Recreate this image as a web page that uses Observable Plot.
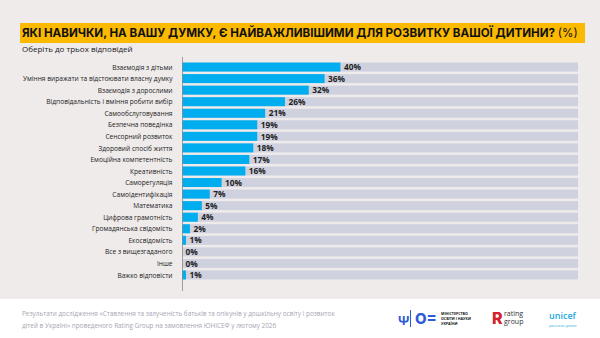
<!DOCTYPE html>
<html><head><meta charset="utf-8">
<script src="https://cdn.jsdelivr.net/npm/d3@7"></script>
<script src="https://cdn.jsdelivr.net/npm/@observablehq/plot@0.6"></script>
<style>
html,body{margin:0;padding:0;}
body{width:600px;height:338px;background:#efebeb;position:relative;overflow:hidden;font-family:"Open Sans",sans-serif;}
#title{position:absolute;left:20px;top:23px;width:565px;height:20px;background:#fbb900;box-sizing:border-box;padding-left:2px;font-family:Inter,sans-serif;font-weight:700;font-size:11.6px;line-height:20px;color:#111;white-space:nowrap;letter-spacing:0px;}
#title span{font-weight:400;}
#sub{position:absolute;left:22px;top:43px;font-size:8px;color:#222;}
#chart{position:absolute;left:0;top:55px;}
#chart svg{display:block;}
#footer{position:absolute;left:0;top:299px;width:600px;height:39px;background:#fff;}
#note{position:absolute;left:22px;top:9px;font-size:6.4px;line-height:12px;color:#a6a6b3;}
.logo{position:absolute;}
</style></head><body>
<div id="title">ЯКІ НАВИЧКИ, НА ВАШУ ДУМКУ, Є НАЙВАЖЛИВІШИМИ ДЛЯ РОЗВИТКУ ВАШОЇ ДИТИНИ? <span>(%)</span></div>
<div id="sub">Оберіть до трьох відповідей</div>
<div id="chart"></div>
<div id="footer">
  <div id="note">Результати дослідження «Ставлення та залученість батьків та опікунів у дошкільну освіту і розвиток<br>дітей в Україні» проведеного Rating Group на замовлення ЮНІСЕФ у лютому 2026</div>
  <div class="logo" style="left:398px;top:12px;font-size:13px;color:#2d5bd7;font-weight:700;">Ѱ</div>
  <div class="logo" style="left:410px;top:11px;width:1px;height:17px;background:#2d5bd7;"></div>
  <div class="logo" style="left:415px;top:11px;font-size:15px;color:#2d5bd7;font-weight:800;font-family:Inter;line-height:17px;">O=</div>
  <div class="logo" style="left:441px;top:12px;font-size:3.6px;line-height:5px;color:#111;font-weight:700;">МІНІСТЕРСТВО<br>ОСВІТИ І НАУКИ<br>УКРАЇНИ</div>
  <div class="logo" style="left:492px;top:10px;font-size:16px;color:#d6202b;font-weight:800;font-family:Inter;line-height:19px;">R</div>
  <div class="logo" style="left:504px;top:11px;font-size:7px;line-height:8px;color:#333;">rating<br>group</div>
  <div class="logo" style="left:549px;top:10px;font-size:9px;color:#1cabe2;font-weight:600;">unicef</div>
  <div class="logo" style="left:549px;top:25px;font-size:3px;color:#1cabe2;">для кожної дитини</div>
</div>
<script>
const skills = ["Взаємодія з дітьми","Уміння виражати та відстоювати власну думку","Взаємодія з дорослими","Відповідальність і вміння робити вибір","Самообслуговування","Безпечна поведінка","Сенсорний розвиток","Здоровий спосіб життя","Емоційна компетентність","Креативність","Саморегуляція","Самоідентифікація","Математика","Цифрова грамотність","Громадянська свідомість","Екосвідомість","Все з вищезгаданого","Інше","Важко відповісти"];
const shares = [40,36,32,26,21,19,19,18,17,16,10,7,5,4,2,1,0,0,1];
const fullScale = 100;
const data = skills.map((s,i)=>({skill:s, value:shares[i]}));
const chart = Plot.plot({
  width:600, height:240,
  marginLeft:182, marginRight:22, marginTop:2, marginBottom:4,
  style:{background:"transparent", fontFamily:"'Open Sans',sans-serif"},
  x:{domain:[0,fullScale], axis:null},
  y:{domain:skills, padding:0.22, round:false, insetTop:3, insetBottom:9, label:null},
  marks:[
    Plot.barX(data,{y:"skill", x1:0, x2:fullScale, fill:"#cfd1de"}),
    Plot.barX(data,{y:"skill", x:"value", fill:"#00aeef"}),
    Plot.text(data,{y:"skill", x:"value", text:d=>d.value+"%", dx:3, textAnchor:"start", fontWeight:"bold", fontSize:8.3, fill:"#1e1e24"}),
    Plot.ruleX([0],{stroke:"#8a8a8a", strokeWidth:0.8}),
    Plot.axisY({tickSize:0, tickPadding:10, fontSize:6.6, fontWeight:500, fill:"#222", label:null})
  ]
});
document.getElementById("chart").append(chart);
</script>
</body></html>
